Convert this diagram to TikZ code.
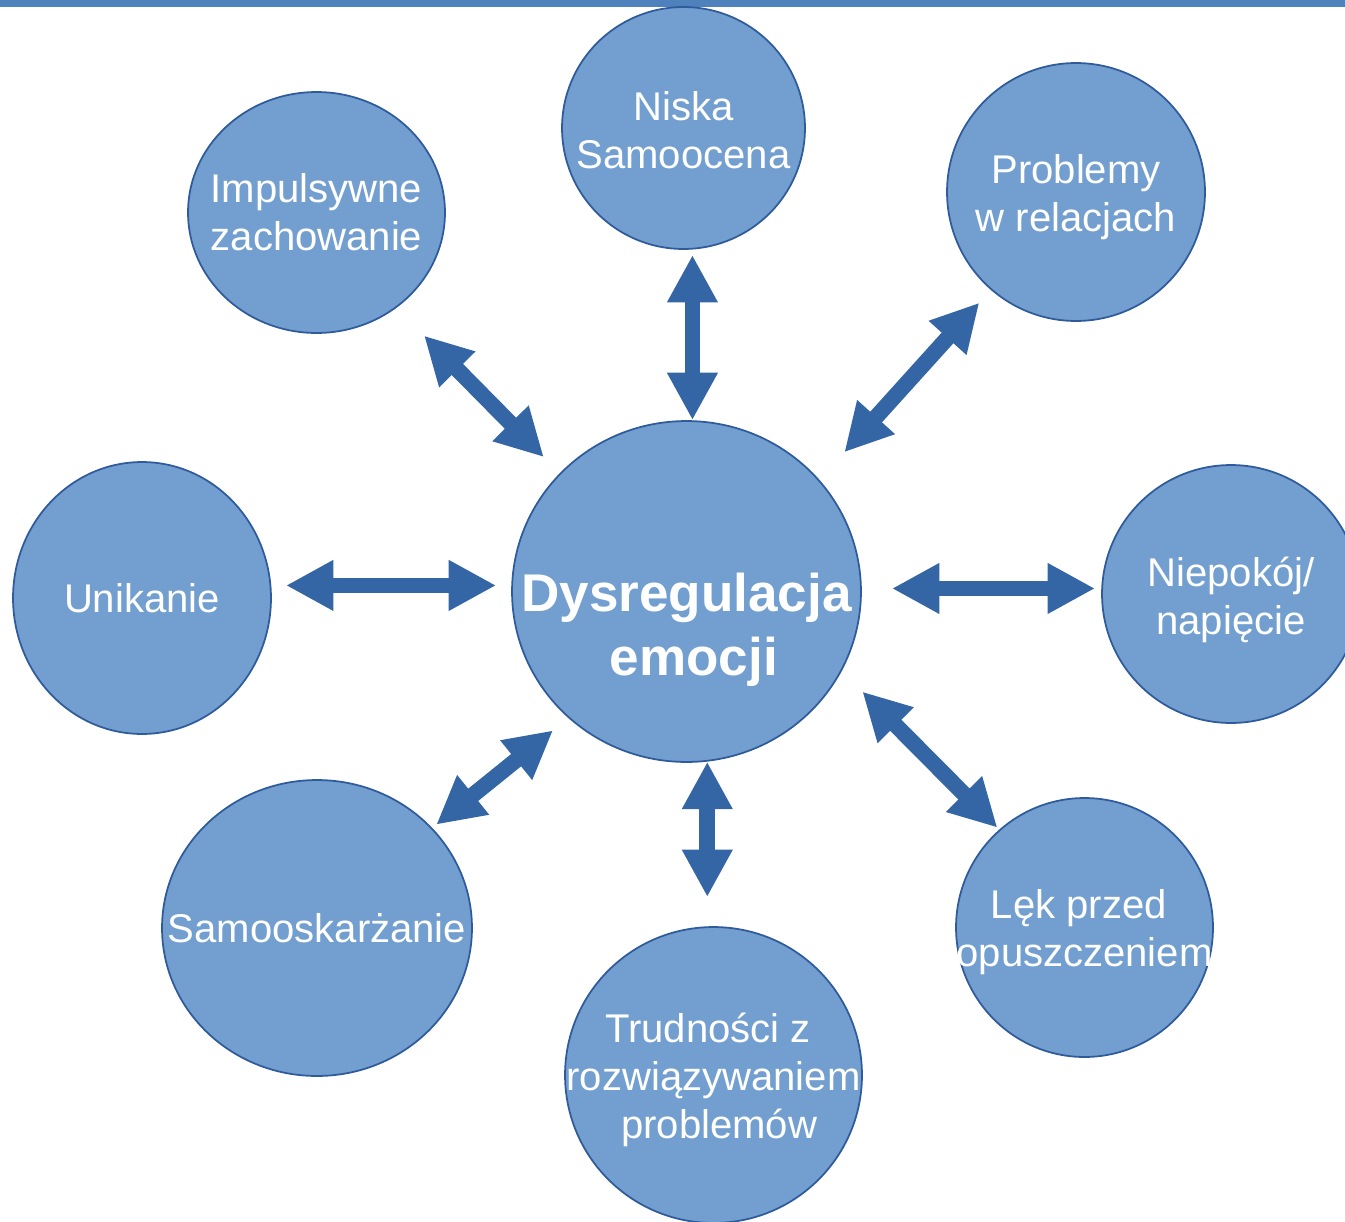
\documentclass[tikz,border=0pt]{standalone}
\usepackage{fontspec}
\setmainfont{Liberation Sans}
\usetikzlibrary{arrows.meta,shapes.geometric}

\definecolor{bubblue}{HTML}{729FCF}
\definecolor{edgeblue}{HTML}{2F5B9C}
\definecolor{arrowblue}{HTML}{3465A4}
\definecolor{barblue}{HTML}{4F81BD}

\begin{document}
\begin{tikzpicture}[
  x=0.02cm, y=-0.02cm,
  font=\fontsize{22.8pt}{27.3pt}\selectfont,
  bub/.style={ellipse, draw=edgeblue, line width=1pt, fill=bubblue, inner sep=0pt, outer sep=0pt},
  txt/.style={text=white, align=center, inner sep=0pt},
  arrow/.style={{Triangle[length=27pt,width=27pt]}-{Triangle[length=27pt,width=27pt]}, line width=9pt, draw=arrowblue}
]
\useasboundingbox (0,0) rectangle (1345,1221);
\fill[barblue] (0,0) rectangle (1345,7);

% bubbles
\node[bub, minimum width=6.98cm, minimum height=6.82cm] (ctr) at (686.5,591.5) {};
\node[bub, minimum width=4.86cm, minimum height=4.84cm] (niska) at (683.5,128) {};
\node[bub, minimum width=5.16cm, minimum height=5.16cm] (prob) at (1076,192) {};
\node[bub, minimum width=5.14cm, minimum height=4.82cm] (impuls) at (316.5,212.5) {};
\node[bub, minimum width=5.16cm, minimum height=5.44cm] (unik) at (142,598) {};
\node[bub, minimum width=5.16cm, minimum height=5.16cm] (niep) at (1231,594) {};
\node[bub, minimum width=6.20cm, minimum height=5.92cm] (samo) at (317,928) {};
\node[bub, minimum width=5.94cm, minimum height=5.92cm] (trud) at (713.5,1075) {};
\node[bub, minimum width=5.14cm, minimum height=5.18cm] (lek) at (1084.5,927.5) {};

% labels
\node[txt, anchor=north, font=\bfseries\fontsize{30.2pt}{36.4pt}\selectfont] (ctr-t) at (686.5,573) {Dysregulacja\\\kern.28em emocji};
\node[txt] (niska-t) at ([yshift=-0.05cm]niska) {Niska\\Samoocena};
\node[txt] (prob-t) at ([yshift=-0.1cm]prob) {Problemy\\w relacjach};
\node[txt] (impuls-t) at (impuls) {Impulsywne\\zachowanie};
\node[txt] (unik-t) at (unik) {Unikanie};
\node[txt] (niep-t) at ([yshift=-0.12cm]niep) {Niepokój/\\napięcie};
\node[txt] (samo-t) at (samo) {Samooskarżanie};
\node[txt] (trud-t) at ([yshift=-0.1cm]trud) {Trudności z\kern.28em\\rozwiązywaniem\\\kern.28em problemów};
\node[txt] (lek-t) at ([yshift=-0.1cm]lek) {Lęk przed\kern.28em\\opuszczeniem};

% double arrows
\draw[arrow, shorten <=0.02cm, shorten >=0.12cm] (ctr.88.7) -- (ctr.88.7 |- niska.south);
\draw[arrow, shorten <=0.76cm, shorten >=0.36cm] (ctr.40.8) -- (prob.229.7);
\draw[arrow, shorten <=0.47cm, shorten >=0.80cm] (ctr.137.1) -- (impuls.310);
\draw[arrow, shorten <=0.32cm, shorten >=0.30cm] (ctr.178.5) -- (unik.east |- ctr.178.5);
\draw[arrow, shorten <=0.62cm, shorten >=0.14cm] (ctr.1.5) -- (niep.west |- ctr.1.5);
\draw[arrow, shorten <=0.60cm, shorten >=0.07cm] (ctr.-27.6) -- (lek.131.9);
\draw[arrow, shorten <=0.02cm, shorten >=0.60cm] (ctr.-83.8) -- (ctr.-83.8 |- trud.north);
\draw[arrow, shorten <=0.41cm, shorten >=0.12cm] (ctr.227.7) -- (samo.41.2);
\end{tikzpicture}
\end{document}
